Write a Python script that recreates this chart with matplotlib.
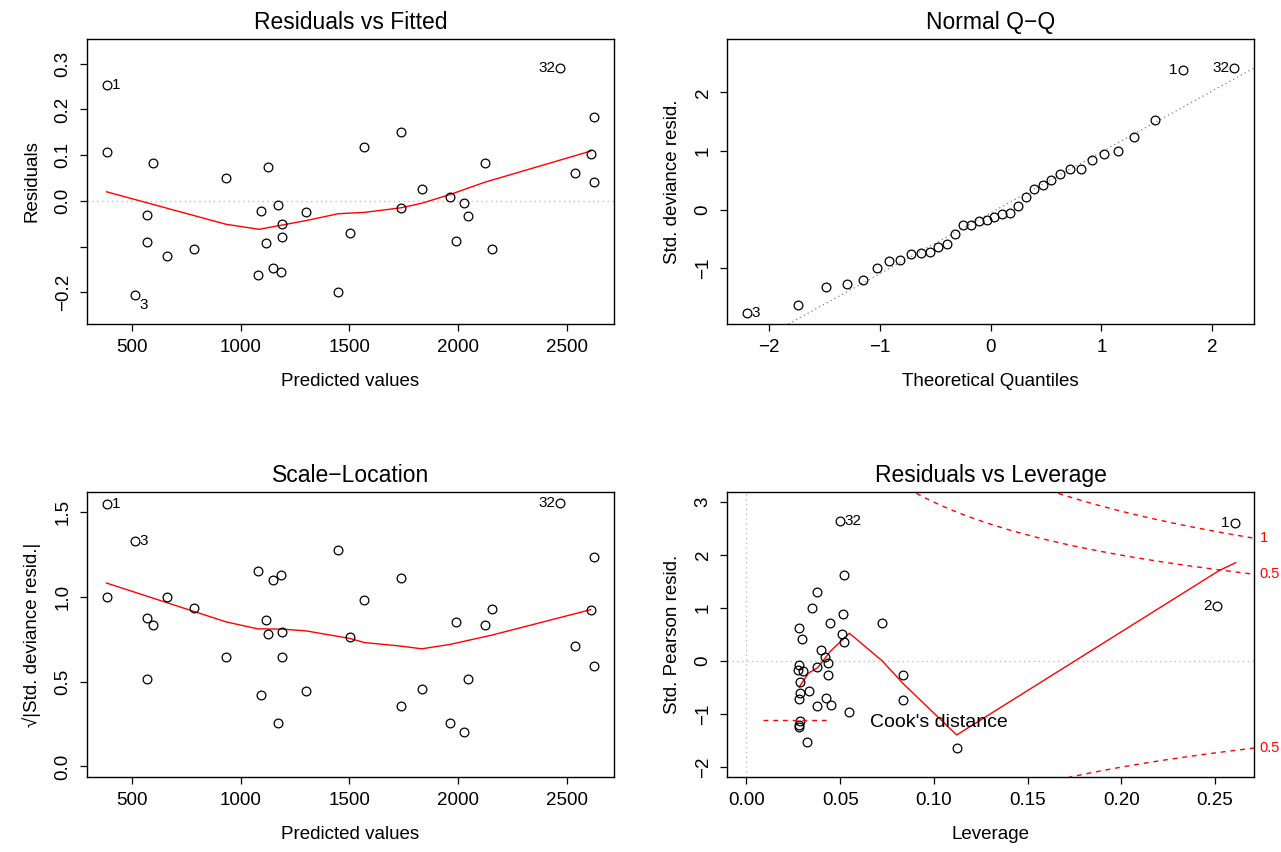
import numpy as np
import matplotlib
matplotlib.use('Agg')
import matplotlib.pyplot as plt
import matplotlib.transforms as mtransforms

plt.rcParams['font.family'] = ['Liberation Sans', 'DejaVu Sans']
plt.rcParams['axes.unicode_minus'] = True

# fitted values / residuals (one entry per observation)
fitted = [382, 385, 598, 568, 568, 661, 785, 511, 932, 1124, 1093, 1169, 1300, 1189, 1189, 1118,
          1150, 1184, 1077, 1446, 1503, 1569, 1737, 1737, 1833, 1963, 2029, 2046, 1991, 2124, 2156,
          2470, 2539, 2611, 2628, 2628]
resid = [0.254, 0.107, 0.083, -0.031, -0.090, -0.120, -0.106, -0.206, 0.050, 0.075, -0.022, -0.008,
         -0.024, -0.050, -0.078, -0.091, -0.146, -0.155, -0.161, -0.198, -0.070, 0.117, 0.150, -0.015,
         0.026, 0.008, -0.005, -0.032, -0.088, 0.084, -0.104, 0.291, 0.061, 0.102, 0.183, 0.042]
sqrt_std_resid = [1.551, 1.002, 0.835, 0.516, 0.875, 0.998, 0.937, 1.329, 0.645, 0.784, 0.422, 0.255,
                  0.445, 0.647, 0.796, 0.865, 1.098, 1.131, 1.151, 1.278, 0.765, 0.982, 1.114, 0.355,
                  0.459, 0.257, 0.204, 0.518, 0.853, 0.833, 0.929, 1.557, 0.712, 0.925, 1.237, 0.594]
fitted_ids = {0: '1', 7: '3', 31: '32'}

# smoother lines
smooth1_x = [382, 932, 1084, 1300, 1448, 1569, 1737, 1833, 1963, 2124, 2611]
smooth1_y = [0.020, -0.051, -0.062, -0.043, -0.028, -0.025, -0.015, -0.005, 0.014, 0.041, 0.109]
smooth3_x = [382, 932, 1077, 1189, 1300, 1503, 1569, 1737, 1833, 1963, 2156, 2611]
smooth3_y = [1.082, 0.853, 0.812, 0.810, 0.800, 0.755, 0.731, 0.710, 0.694, 0.720, 0.775, 0.925]

# normal Q-Q
theo_q = [-2.200, -1.732, -1.480, -1.298, -1.150, -1.024, -0.913, -0.812, -0.719, -0.631, -0.549,
          -0.470, -0.393, -0.319, -0.246, -0.175, -0.105, -0.035, 0.035, 0.105, 0.175, 0.246, 0.319,
          0.393, 0.470, 0.549, 0.631, 0.719, 0.812, 0.913, 1.024, 1.150, 1.298, 1.480, 1.732, 2.200]
std_dev_resid = [-1.773, -1.626, -1.326, -1.275, -1.201, -0.997, -0.873, -0.861, -0.765, -0.742,
                 -0.725, -0.640, -0.584, -0.419, -0.266, -0.266, -0.198, -0.181, -0.130, -0.074,
                 -0.051, 0.068, 0.210, 0.346, 0.414, 0.504, 0.606, 0.697, 0.697, 0.850, 0.958, 0.997,
                 1.235, 1.524, 2.391, 2.419]
qq_ids = {0: '3', 34: '1', 35: '32'}
qq_slope = 1.041
qq_intercept = -0.056

# residuals vs leverage
leverage = [0.2605, 0.2511, 0.0499, 0.0519, 0.0379, 0.0349, 0.0517, 0.0447, 0.0724, 0.0281, 0.0294,
            0.0508, 0.0521, 0.0397, 0.0418, 0.0434, 0.0281, 0.0277, 0.0301, 0.0379, 0.0434, 0.0837,
            0.0283, 0.0288, 0.0336, 0.0281, 0.0425, 0.0837, 0.0375, 0.0451, 0.0547, 0.0283, 0.0281,
            0.0279, 0.0325, 0.1122]
pearson = [2.611, 1.042, 2.649, 1.626, 1.299, 1.004, 0.885, 0.715, 0.722, 0.634, 0.421, 0.521, 0.358,
           0.213, 0.075, -0.031, -0.069, -0.176, -0.195, -0.119, -0.257, -0.257, -0.402, -0.603,
           -0.559, -0.716, -0.697, -0.734, -0.841, -0.828, -0.954, -1.130, -1.211, -1.249, -1.519,
           -1.644]
lev_ids = {0: '1', 1: '2', 2: '32'}
smooth4_x = [0.0281, 0.0331, 0.0381, 0.0447, 0.0549, 0.0724, 0.0837, 0.1122, 0.2522, 0.2611]
smooth4_y = [-0.490, -0.226, -0.119, 0.182, 0.527, 0.006, -0.427, -1.393, 1.707, 1.858]
cook_levels = [0.5, 1]
n_params = 2

GREY = '#BEBEBE'
RED = '#FF0000'
TICK_FS = 13.5
LAB_FS = 13.5
TITLE_FS = 16.5
ID_FS = 11


def style_axes(ax, xticks, xlabels, yticks, ylabels, xlim, ylim, title, xlabel, ylabel):
    ax.set_xlim(*xlim)
    ax.set_ylim(*ylim)
    ax.set_xticks(xticks)
    ax.set_xticklabels(xlabels)
    ax.set_yticks(yticks)
    ax.set_yticklabels(ylabels, rotation=90, va='center')
    ax.tick_params(direction='out', length=5, width=0.9, labelsize=TICK_FS, pad=6)
    for s in ax.spines.values():
        s.set_linewidth(1.0)
    ax.set_title(title, fontsize=TITLE_FS, pad=7)
    ax.set_xlabel(xlabel, fontsize=LAB_FS, labelpad=12)
    ax.set_ylabel(ylabel, fontsize=LAB_FS, labelpad=10)


def points(ax, x, y):
    ax.plot(x, y, 'o', ls='none', mfc='none', mec='black', ms=6.3, mew=0.9, zorder=3)


def ids(ax, x, y, labels, mid, dy_neg=0):
    for i, lab in labels.items():
        right = x[i] <= mid
        dy = dy_neg if y[i] < 0 else 0
        ax.annotate(lab, (x[i], y[i]), xytext=(3.5 if right else -3.5, dy),
                    textcoords='offset points', ha='left' if right else 'right',
                    va='center', fontsize=ID_FS, annotation_clip=False)


fig = plt.figure(figsize=(12.81, 8.52), dpi=100)
W, H = 1281, 852
ax1 = fig.add_axes([87 / W, (852 - 324) / H, 527 / W, 285 / H])
ax2 = fig.add_axes([727 / W, (852 - 324) / H, 527 / W, 285 / H])
ax3 = fig.add_axes([87 / W, (852 - 777) / H, 527 / W, 285 / H])
ax4 = fig.add_axes([727 / W, (852 - 777) / H, 527 / W, 285 / H])

# 1: residuals vs fitted
ax1.axhline(0, color=GREY, lw=1, dashes=(1, 2.5))
points(ax1, fitted, resid)
ax1.plot(smooth1_x, smooth1_y, color=RED, lw=1)
ids(ax1, fitted, resid, fitted_ids, 1500, dy_neg=-7)
style_axes(ax1, [500, 1000, 1500, 2000, 2500], ['500', '1000', '1500', '2000', '2500'],
           [-0.2, -0.1, 0.0, 0.1, 0.2, 0.3], ['\u22120.2', '', '0.0', '0.1', '0.2', '0.3'],
           (292, 2718), (-0.269, 0.354), 'Residuals vs Fitted', 'Predicted values', 'Residuals')

# 2: normal Q-Q
ax2.axline((0, qq_intercept), slope=qq_slope, color='#808080', lw=0.9, dashes=(1, 2.5))
points(ax2, theo_q, std_dev_resid)
ids(ax2, theo_q, std_dev_resid, qq_ids, 0)
style_axes(ax2, [-2, -1, 0, 1, 2], ['\u22122', '\u22121', '0', '1', '2'],
           [-1, 0, 1, 2], ['\u22121', '0', '1', '2'],
           (-2.376, 2.376), (-1.953, 2.913), 'Normal Q\u2212Q', 'Theoretical Quantiles',
           'Std. deviance resid.')

# 3: scale-location
points(ax3, fitted, sqrt_std_resid)
ax3.plot(smooth3_x, smooth3_y, color=RED, lw=1)
ids(ax3, fitted, sqrt_std_resid, fitted_ids, 1500)
style_axes(ax3, [500, 1000, 1500, 2000, 2500], ['500', '1000', '1500', '2000', '2500'],
           [0.0, 0.5, 1.0, 1.5], ['0.0', '0.5', '1.0', '1.5'],
           (292, 2718), (-0.062, 1.619), 'Scale\u2212Location', 'Predicted values',
           '\u221a|Std. deviance resid.|')

# 4: residuals vs leverage
xlim4 = (-0.0104, 0.2709)
ylim4 = (-2.186, 3.191)
ax4.axhline(0, color=GREY, lw=1, dashes=(1, 2.5))
ax4.axvline(0, color=GREY, lw=1, dashes=(1, 2.5))
points(ax4, leverage, pearson)
ax4.plot(smooth4_x, smooth4_y, color=RED, lw=1)
hh = np.linspace(0.001, xlim4[1], 200)
trans = mtransforms.blended_transform_factory(ax4.transAxes, ax4.transData)
for lev in cook_levels:
    cl = np.sqrt(lev * n_params * (1 - hh) / hh)
    ax4.plot(hh, cl, color=RED, lw=1, dashes=(3.5, 3.5))
    ax4.plot(hh, -cl, color=RED, lw=1, dashes=(3.5, 3.5))
    edge = np.sqrt(lev * n_params * (1 - xlim4[1]) / xlim4[1])
    for yv in (edge, -edge):
        if ylim4[0] < yv < ylim4[1]:
            ax4.text(1.011, yv, '%g' % lev, transform=trans, color=RED, fontsize=10.5,
                     ha='left', va='center', clip_on=False)
ids(ax4, leverage, pearson, lev_ids, 0.13)
style_axes(ax4, [0.0, 0.05, 0.10, 0.15, 0.20, 0.25],
           ['0.00', '0.05', '0.10', '0.15', '0.20', '0.25'],
           [-2, -1, 0, 1, 2, 3], ['\u22122', '\u22121', '0', '1', '2', '3'],
           xlim4, ylim4, 'Residuals vs Leverage', 'Leverage', 'Std. Pearson resid.')
ax4.plot([], [], color=RED, lw=1, dashes=(3.5, 3.5), label="Cook's distance")
ax4.legend(loc='center left', bbox_to_anchor=((763 - 727) / 527, (777 - 722) / 285),
           frameon=False, fontsize=14, handlelength=3.5, handletextpad=2.0,
           borderpad=0, borderaxespad=0)

fig.savefig('out.png', dpi=100)
